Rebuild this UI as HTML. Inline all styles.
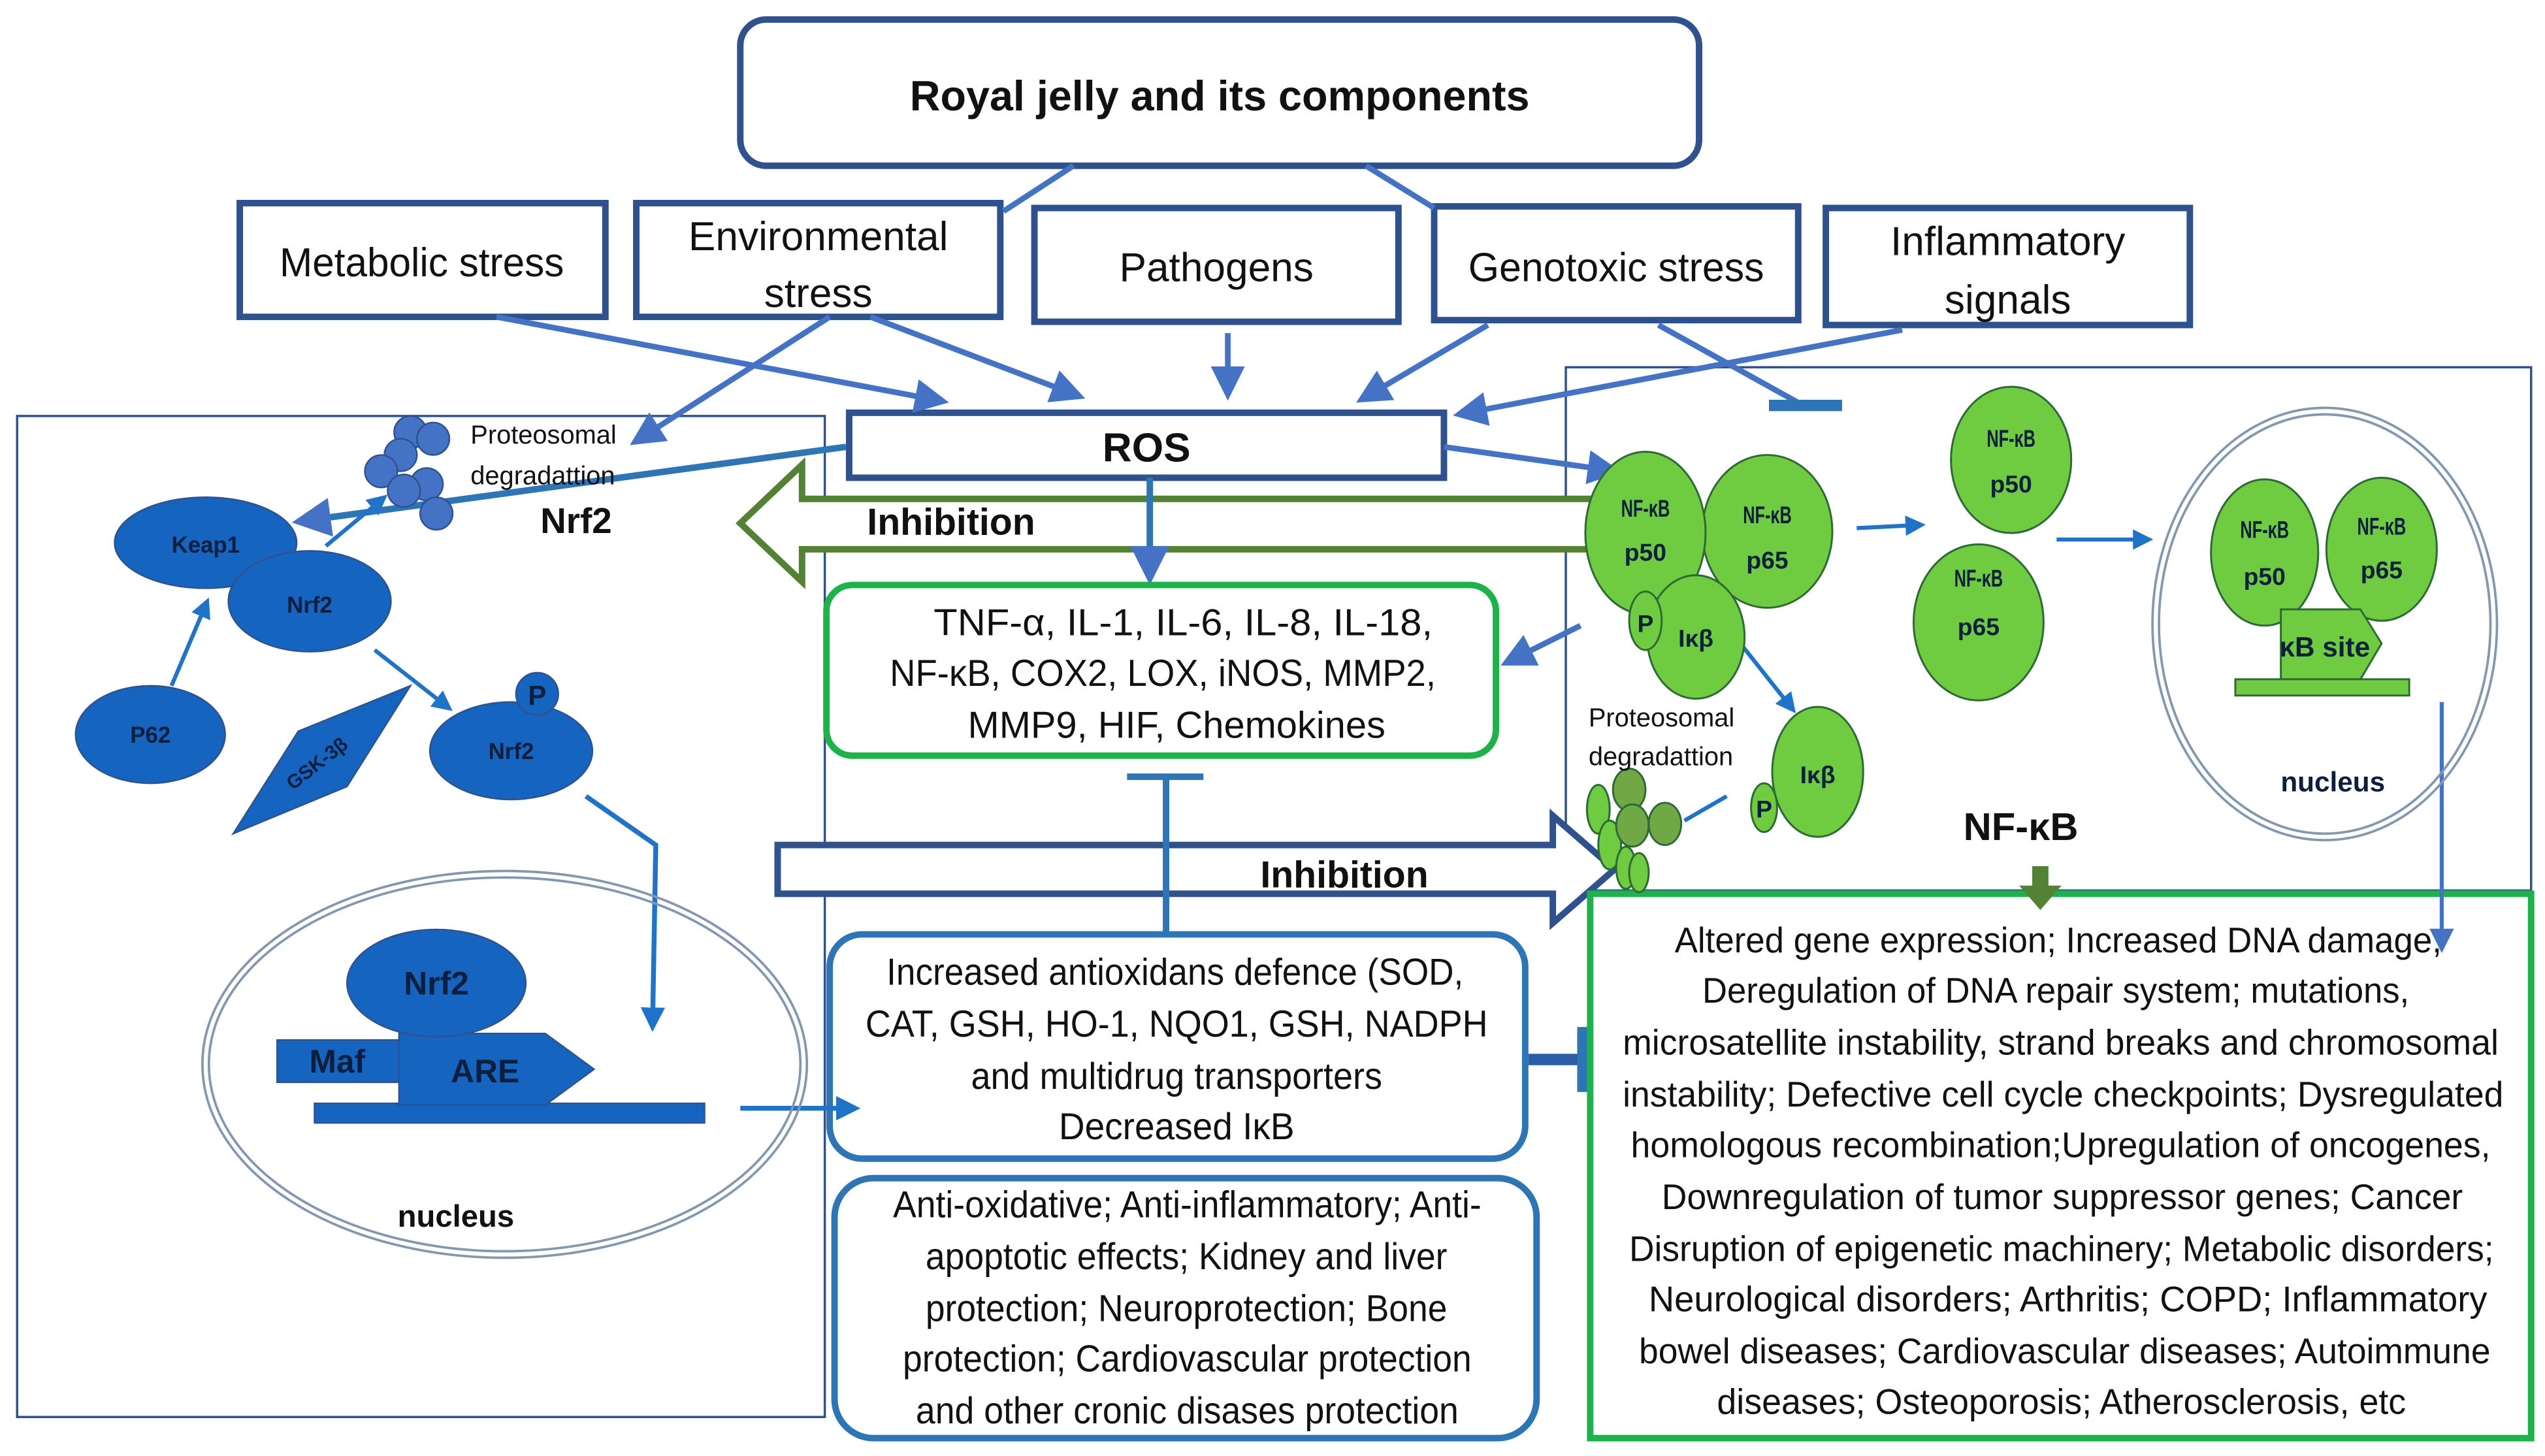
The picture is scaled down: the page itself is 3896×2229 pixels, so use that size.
<!DOCTYPE html>
<html><head><meta charset="utf-8"><style>html,body{margin:0;padding:0;background:#fff}svg{display:block}text{font-family:"Liberation Sans",sans-serif;fill:#111}</style></head><body>
<svg width="3896" height="2229" viewBox="0 0 1565 896" xmlns="http://www.w3.org/2000/svg">
<defs>
<marker id="a" markerWidth="6" markerHeight="6" refX="5" refY="3" orient="auto" markerUnits="strokeWidth"><path d="M0,0 L6,3 L0,6 Z" fill="#4472c4"/></marker>
<marker id="b" markerWidth="5" markerHeight="5" refX="4" refY="2.5" orient="auto" markerUnits="strokeWidth"><path d="M0,0 L5,2.5 L0,5 Z" fill="#1f73c8"/></marker>
</defs>
<g fill="none" stroke="#2f528f" stroke-width="1.4">
<rect x="10" y="256" width="497" height="616"/>
<rect x="963" y="226" width="594" height="322"/>
</g>
<!-- inhibition arrows (underneath) -->
<path d="M985,307 L493,307 L493,286 L455,322 L493,358 L493,338 L985,338 Z" fill="#fff" stroke="#548235" stroke-width="4"/>
<text x="533" y="329" font-size="23" font-weight="bold">Inhibition</text>
<path d="M478,520 L955,520 L955,502 L993,535 L955,568 L955,550 L478,550 Z" fill="#fff" stroke="#2f528f" stroke-width="4"/>
<text x="775" y="546" font-size="23" font-weight="bold">Inhibition</text>
<g fill="#fff" stroke="#2f528f" stroke-width="4">
<rect x="455" y="12" width="590" height="90" rx="16"/>
<rect x="147" y="125" width="225" height="70"/>
<rect x="391" y="125" width="224" height="70"/>
<rect x="636" y="128" width="224" height="70"/>
<rect x="882" y="127" width="224" height="70"/>
<rect x="1123" y="128" width="224" height="72"/>
<rect x="522" y="254" width="366" height="40"/>
</g>
<g stroke="#4472c4" stroke-width="3.5" fill="none">
<line x1="660" y1="102" x2="617" y2="130"/>
<line x1="840" y1="102" x2="882" y2="128"/>
<line x1="305" y1="195" x2="580" y2="247" marker-end="url(#a)"/>
<line x1="510" y1="195" x2="390" y2="272" marker-end="url(#a)"/>
<line x1="535" y1="195" x2="664" y2="244" marker-end="url(#a)"/>
<line x1="755" y1="205" x2="755" y2="243" marker-end="url(#a)"/>
<line x1="915" y1="200" x2="837" y2="246" marker-end="url(#a)"/>
<line x1="1170" y1="203" x2="897" y2="255" marker-end="url(#a)"/>
<line x1="1020" y1="200" x2="1110" y2="250"/>
<line x1="888" y1="275" x2="994" y2="290" marker-end="url(#a)"/>
<line x1="972" y1="385" x2="926" y2="408" marker-end="url(#a)"/>
</g>
<rect x="1088" y="246" width="45" height="7" fill="#2e75b6"/>
<g stroke="#2e75b6" stroke-width="4" fill="none">
<line x1="520" y1="275" x2="183" y2="321" marker-end="url(#a)"/>
<line x1="707" y1="294" x2="707" y2="356" marker-end="url(#a)"/>
<line x1="717" y1="573" x2="717" y2="478"/>
<line x1="693" y1="478" x2="740" y2="478"/>
<line x1="940" y1="652" x2="972" y2="652" stroke-width="7" stroke="#2e5da8"/>
</g>
<rect x="970" y="632" width="8" height="40" fill="#2e75b6"/>
<!-- boxes -->
<rect x="508" y="360" width="412" height="105" rx="16" fill="#fff" stroke="#1db34a" stroke-width="4"/>
<rect x="510" y="575" width="428" height="138" rx="20" fill="#fff" stroke="#2e75b6" stroke-width="4"/>
<rect x="513" y="725" width="432" height="160" rx="24" fill="#fff" stroke="#2e75b6" stroke-width="4"/>
<rect x="978" y="550" width="579" height="335" fill="#fff" stroke="#1db34a" stroke-width="4"/>
<text x="750" y="68" font-size="26" font-weight="bold" text-anchor="middle">Royal jelly and its components</text>
<g font-size="25" text-anchor="middle">
<text x="259" y="170" textLength="175" lengthAdjust="spacingAndGlyphs">Metabolic stress</text>
<text x="503" y="154">Environmental</text><text x="503" y="189">stress</text>
<text x="748" y="173">Pathogens</text>
<text x="994" y="173" textLength="182" lengthAdjust="spacingAndGlyphs">Genotoxic stress</text>
<text x="1235" y="157">Inflammatory</text><text x="1235" y="193">signals</text>
</g>
<text x="705" y="284" font-size="25" font-weight="bold" text-anchor="middle">ROS</text>
<g font-size="23">
<text x="574" y="391" textLength="307" lengthAdjust="spacingAndGlyphs">TNF-α, IL-1, IL-6, IL-8, IL-18,</text>
<text x="547" y="422" textLength="336" lengthAdjust="spacingAndGlyphs">NF-κB, COX2, LOX, iNOS, MMP2,</text>
<text x="595" y="454" textLength="257" lengthAdjust="spacingAndGlyphs">MMP9, HIF, Chemokines</text>
<text x="545" y="606" textLength="355" lengthAdjust="spacingAndGlyphs">Increased antioxidans defence (SOD,</text>
<text x="532" y="638" textLength="383" lengthAdjust="spacingAndGlyphs">CAT, GSH, HO-1, NQO1, GSH, NADPH</text>
<text x="597" y="670" textLength="253" lengthAdjust="spacingAndGlyphs">and multidrug transporters</text>
<text x="651" y="701" textLength="145" lengthAdjust="spacingAndGlyphs">Decreased IκB</text>
<text x="549" y="749" textLength="362" lengthAdjust="spacingAndGlyphs">Anti-oxidative; Anti-inflammatory; Anti-</text>
<text x="569" y="781" textLength="321" lengthAdjust="spacingAndGlyphs">apoptotic effects; Kidney and liver</text>
<text x="569" y="813" textLength="321" lengthAdjust="spacingAndGlyphs">protection; Neuroprotection; Bone</text>
<text x="555" y="844" textLength="350" lengthAdjust="spacingAndGlyphs">protection; Cardiovascular protection</text>
<text x="563" y="876" textLength="334" lengthAdjust="spacingAndGlyphs">and other cronic disases protection</text>
</g>
<g font-size="22">
<text x="1030" y="586" textLength="472" lengthAdjust="spacingAndGlyphs">Altered gene expression; Increased DNA damage,</text>
<text x="1047" y="617" textLength="435" lengthAdjust="spacingAndGlyphs">Deregulation of DNA repair system; mutations,</text>
<text x="998" y="649" textLength="539" lengthAdjust="spacingAndGlyphs">microsatellite instability, strand breaks and chromosomal</text>
<text x="998" y="681" textLength="542" lengthAdjust="spacingAndGlyphs">instability; Defective cell cycle checkpoints; Dysregulated</text>
<text x="1003" y="712" textLength="529" lengthAdjust="spacingAndGlyphs">homologous  recombination;Upregulation of oncogenes,</text>
<text x="1022" y="744" textLength="493" lengthAdjust="spacingAndGlyphs">Downregulation of tumor suppressor genes; Cancer</text>
<text x="1002" y="776" textLength="532" lengthAdjust="spacingAndGlyphs">Disruption of epigenetic machinery; Metabolic disorders;</text>
<text x="1014" y="807" textLength="516" lengthAdjust="spacingAndGlyphs">Neurological disorders; Arthritis;  COPD; Inflammatory</text>
<text x="1008" y="839" textLength="524" lengthAdjust="spacingAndGlyphs">bowel diseases; Cardiovascular diseases; Autoimmune</text>
<text x="1056" y="870" textLength="424" lengthAdjust="spacingAndGlyphs">diseases; Osteoporosis; Atherosclerosis, etc</text>
</g>
<!-- Left panel Nrf2 -->
<g fill="#4472c4" stroke="#2f528f" stroke-width="1">
<circle cx="252" cy="266" r="10"/><circle cx="266" cy="270" r="10"/><circle cx="246" cy="280" r="10"/><circle cx="234" cy="290" r="10"/><circle cx="262" cy="298" r="10"/><circle cx="248" cy="302" r="10"/><circle cx="268" cy="316" r="10"/>
</g>
<text x="289" y="273" font-size="16">Proteosomal</text>
<text x="289" y="298" font-size="16">degradattion</text>
<text x="332" y="328" font-size="22" font-weight="bold">Nrf2</text>
<g stroke="#1f73c8" stroke-width="2.5" fill="none">
<line x1="200" y1="336" x2="236" y2="306" marker-end="url(#b)"/>
<line x1="105" y1="422" x2="127" y2="370" marker-end="url(#b)"/>
<line x1="230" y1="400" x2="276" y2="436" marker-end="url(#b)"/>
<polyline points="360,490 403,520 401,632" stroke-width="3" marker-end="url(#b)"/>
<line x1="455" y1="682" x2="526" y2="682" stroke-width="3" marker-end="url(#b)"/>
</g>
<g fill="#1565c0" stroke="#2f528f" stroke-width="1">
<ellipse cx="126" cy="334" rx="56" ry="28"/>
<ellipse cx="190" cy="370" rx="50" ry="31"/>
<ellipse cx="92" cy="452" rx="46" ry="30"/>
<polygon points="143,513 183,450 252,422 213,484"/>
<ellipse cx="314" cy="462" rx="50" ry="30"/>
<circle cx="330" cy="427" r="13"/>
</g>
<g font-size="14" font-weight="bold" text-anchor="middle">
<text x="126" y="340" style="fill:#0d1f3d">Keap1</text>
<text x="190" y="377" style="fill:#0d1f3d">Nrf2</text>
<text x="92" y="457" style="fill:#0d1f3d">P62</text>
<text x="314" y="467" style="fill:#0d1f3d">Nrf2</text>
<text x="330" y="434" font-size="17" style="fill:#0d1f3d">P</text>
<text x="197" y="473" transform="rotate(-38 197 473)" font-size="12" style="fill:#0d1f3d">GSK-3β</text>
</g>
<ellipse cx="310" cy="655" rx="186" ry="119" fill="none" stroke="#8497b0" stroke-width="1.5"/>
<ellipse cx="310" cy="655" rx="182" ry="115" fill="none" stroke="#8497b0" stroke-width="1.5"/>
<g fill="#1565c0" stroke="#2f528f" stroke-width="1">
<rect x="193" y="679" width="240" height="12"/>
<rect x="170" y="640" width="78" height="26"/>
<polygon points="245,636 335,636 365,658 335,680 245,680"/>
<ellipse cx="268" cy="605" rx="55" ry="33"/>
</g>
<g font-size="20" font-weight="bold" text-anchor="middle">
<text x="268" y="612" style="fill:#0d1f3d">Nrf2</text>
<text x="207" y="660" style="fill:#0d1f3d">Maf</text>
<text x="298" y="666" style="fill:#0d1f3d">ARE</text>
<text x="280" y="755" font-size="19">nucleus</text>
</g>
<!-- Right panel NF-kB -->
<g stroke="#1f73c8" stroke-width="2.5" fill="none">
<line x1="1142" y1="325" x2="1182" y2="323" marker-end="url(#b)"/>
<line x1="1265" y1="332" x2="1322" y2="332" marker-end="url(#b)"/>
<line x1="1072" y1="398" x2="1103" y2="437" marker-end="url(#b)"/>
<line x1="1062" y1="490" x2="1036" y2="505"/>
<line x1="1502" y1="432" x2="1502" y2="584" stroke="#4472c4" marker-end="url(#a)"/>
</g>
<ellipse cx="1430" cy="384" rx="106" ry="133" fill="none" stroke="#8497b0" stroke-width="1.5"/>
<ellipse cx="1430" cy="384" rx="102" ry="129" fill="none" stroke="#8497b0" stroke-width="1.5"/>
<g fill="#6fcb3f" stroke="#2d6a36" stroke-width="1.2">
<ellipse cx="1087" cy="327" rx="40" ry="47"/>
<ellipse cx="1012" cy="328" rx="37" ry="50"/>
<ellipse cx="1043" cy="392" rx="30" ry="38"/>
<ellipse cx="1012" cy="382" rx="10" ry="18"/>
<ellipse cx="1237" cy="283" rx="37" ry="45"/>
<ellipse cx="1217" cy="383" rx="40" ry="48"/>
<ellipse cx="1393" cy="340" rx="33" ry="45"/>
<ellipse cx="1465" cy="338" rx="34" ry="44"/>
<polygon points="1403,375 1452,375 1465,396 1452,418 1403,418"/>
<rect x="1375" y="418" width="107" height="10"/>
<ellipse cx="1118" cy="475" rx="28" ry="40"/>
<ellipse cx="1085" cy="497" rx="8" ry="15"/>
<ellipse cx="983" cy="498" rx="7" ry="15"/><ellipse cx="990" cy="520" rx="7" ry="15"/><ellipse cx="1000" cy="534" rx="6" ry="13"/><ellipse cx="1008" cy="537" rx="6" ry="12"/>
</g>
<g fill="#70a845" stroke="#2d6a36" stroke-width="1.2">
<ellipse cx="1002" cy="486" rx="10" ry="13"/><ellipse cx="1004" cy="508" rx="10" ry="13"/><ellipse cx="1024" cy="507" rx="10" ry="13"/>
</g>
<g font-size="15" font-weight="bold" text-anchor="middle">
<text x="1012" y="318" textLength="30" lengthAdjust="spacingAndGlyphs" style="fill:#0d1f3d">NF-κB</text><text x="1012" y="345" style="fill:#0d1f3d">p50</text>
<text x="1087" y="322" textLength="30" lengthAdjust="spacingAndGlyphs" style="fill:#0d1f3d">NF-κB</text><text x="1087" y="350" style="fill:#0d1f3d">p65</text>
<text x="1043" y="398" style="fill:#0d1f3d">Iκβ</text><text x="1012" y="389" style="fill:#0d1f3d">P</text>
<text x="1237" y="275" textLength="30" lengthAdjust="spacingAndGlyphs" style="fill:#0d1f3d">NF-κB</text><text x="1237" y="303" style="fill:#0d1f3d">p50</text>
<text x="1217" y="361" textLength="30" lengthAdjust="spacingAndGlyphs" style="fill:#0d1f3d">NF-κB</text><text x="1217" y="391" style="fill:#0d1f3d">p65</text>
<text x="1393" y="331" textLength="30" lengthAdjust="spacingAndGlyphs" style="fill:#0d1f3d">NF-κB</text><text x="1393" y="360" style="fill:#0d1f3d">p50</text>
<text x="1465" y="329" textLength="30" lengthAdjust="spacingAndGlyphs" style="fill:#0d1f3d">NF-κB</text><text x="1465" y="356" style="fill:#0d1f3d">p65</text>
<text x="1430" y="404" font-size="17" style="fill:#0d1f3d">κB site</text>
<text x="1118" y="482" style="fill:#0d1f3d">Iκβ</text><text x="1085" y="503" style="fill:#0d1f3d">P</text>
<text x="1435" y="487" font-size="17" style="fill:#0d1f3d">nucleus</text>
</g>
<text x="977" y="447" font-size="16">Proteosomal</text>
<text x="977" y="471" font-size="16">degradattion</text>
<text x="1243" y="517" font-size="24" font-weight="bold" text-anchor="middle">NF-κB</text>
<path d="M1250,533 L1260,533 L1260,545 L1268,545 L1255,560 L1242,545 L1250,545 Z" fill="#548235"/>
</svg>
</body></html>
